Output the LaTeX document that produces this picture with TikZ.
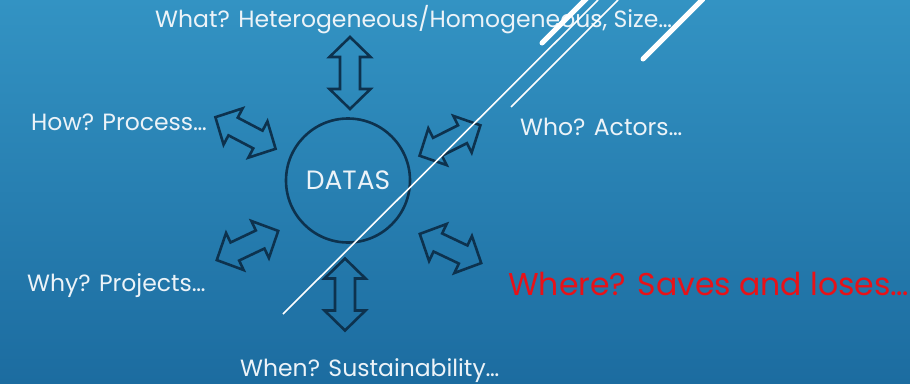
\documentclass[tikz,border=0pt]{standalone}
\usepackage{fontspec}
\setmainfont{Poppins}
\usepackage{tikz}
\usetikzlibrary{calc}
\definecolor{mynavy}{RGB}{13, 50, 78}
\definecolor{mywhite}{RGB}{236, 243, 248}
\definecolor{bgtop}{RGB}{51, 147, 195}
\definecolor{bgbottom}{RGB}{28, 108, 160}
\definecolor{myred}{RGB}{232, 18, 24}
\newcommand{\dblarrow}[1]{%
\draw[arr] (-#1,0) -- (-#1+20,20.5) -- (-#1+20,10) -- (#1-20,10) -- (#1-20,20.5) --
(#1,0) -- (#1-20,-20.5) -- (#1-20,-10) -- (-#1+20,-10) -- (-#1+20,-20.5) -- cycle;}

\begin{document}
\begin{tikzpicture}[
    x = 1pt, y = -1pt,
    arr/.style = {draw = mynavy, line width = 2.6pt, line join = miter},
    lbl/.style = {text = mywhite, anchor = base west, inner sep = 0pt, font = \fontsize{23.5}{26}\selectfont},
    d0/.style = {white, line width = 1.6pt},
    d1/.style = {white, line width = 5pt, line cap = round},
]

\shade[top color = bgtop, bottom color = bgbottom] (0,0) rectangle (910,383);
\useasboundingbox (0,0) rectangle (910,383);

\node[circle, draw = mynavy, line width = 2.6pt, minimum size = 124pt, text = mywhite,
  font = \fontsize{26.5}{30}\selectfont] (datas) at (348,180.5) {DATAS};

% the six questions
\node[lbl] (what) at (155,27) {What? Heterogeneous/Homogeneous, Size…};
\node[lbl] (how) at (31,130) {How? Process…};
\node[lbl] (who) at (520,135) {Who? Actors…};
\node[lbl] (why) at (27,291) {Why? Projects…};
\node[lbl, text = myred, font = \fontsize{31.5}{35}\selectfont] (where) at (508,295) {Where? Saves and loses…};
\node[lbl] (when) at (240,376) {When? Sustainability…};

% double arrows round the circle
\begin{scope}[shift = {(350,73)}, rotate = 90]
\dblarrow{36}
\end{scope}
\begin{scope}[shift = {(345,294.5)}, rotate = 90]
\dblarrow{36}
\end{scope}
\begin{scope}[shift = {(245.5,133)}, rotate = -27.7]
\dblarrow{34}
\end{scope}
\begin{scope}[shift = {(450,140.5)}, rotate = 26.6]
\dblarrow{34}
\end{scope}
\begin{scope}[shift = {(247.5,245.5)}, rotate = 25.4]
\dblarrow{34}
\end{scope}
\begin{scope}[shift = {(450.5,248.5)}, rotate = -25.4]
\dblarrow{34}
\end{scope}

% white strokes
\draw[d0] (283,314) -- (598,0);
\draw[d0] (511,107) -- (618,0);
\draw[d1] (542,43) -- (587,-2);
\draw[d1] (643,59) -- (703,-1);

\end{tikzpicture}
\end{document}
